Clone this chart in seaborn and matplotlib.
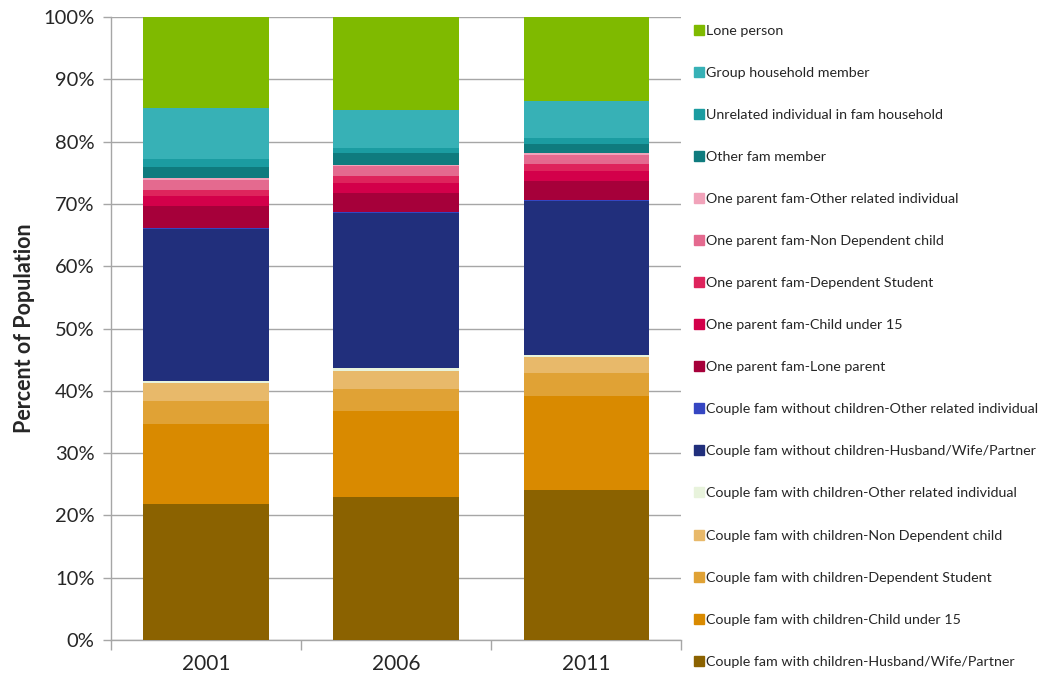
import matplotlib
matplotlib.use("Agg")
import matplotlib.pyplot as plt
from matplotlib.lines import Line2D
import seaborn as sns

years = ["2001", "2006", "2011"]

# Household/family categories, bottom of the stack first
categories = [
    "Couple fam with children-Husband/Wife/Partner",
    "Couple fam with children-Child under 15",
    "Couple fam with children-Dependent Student",
    "Couple fam with children-Non Dependent child",
    "Couple fam with children-Other related individual",
    "Couple fam without children-Husband/Wife/Partner",
    "Couple fam without children-Other related individual",
    "One parent fam-Lone parent",
    "One parent fam-Child under 15",
    "One parent fam-Dependent Student",
    "One parent fam-Non Dependent child",
    "One parent fam-Other related individual",
    "Other fam member",
    "Unrelated individual in fam household",
    "Group household member",
    "Lone person",
]

# Share of population (%) per category, for 2001 / 2006 / 2011
cw_partner      = [21.8, 23.0, 24.1]
cw_child15      = [12.8, 13.8, 15.1]
cw_dep_student  = [3.7, 3.5, 3.7]
cw_nondep_child = [3.0, 2.9, 2.6]
cw_other_rel    = [0.2, 0.4, 0.2]
cn_partner      = [24.5, 24.9, 24.7]
cn_other_rel    = [0.2, 0.2, 0.2]
op_lone_parent  = [3.4, 3.1, 3.1]
op_child15      = [1.6, 1.6, 1.6]
op_dep_student  = [1.0, 1.1, 1.1]
op_nondep_child = [1.7, 1.6, 1.5]
op_other_rel    = [0.3, 0.2, 0.2]
other_fam       = [1.8, 1.8, 1.5]
unrelated       = [1.2, 0.9, 1.0]
group_household = [8.2, 6.1, 6.0]
lone_person     = [14.8, 14.9, 13.4]

series = [
    cw_partner, cw_child15, cw_dep_student, cw_nondep_child, cw_other_rel,
    cn_partner, cn_other_rel,
    op_lone_parent, op_child15, op_dep_student, op_nondep_child, op_other_rel,
    other_fam, unrelated, group_household, lone_person,
]

colors = [
    "#8B6200", "#D98A00", "#E0A235", "#E8B96A", "#E8F3DC",
    "#212F7C", "#3546C2",
    "#A6003A", "#D3004A", "#DE245C", "#E46A8F", "#F1A3BA",
    "#0F7B7E", "#1B9CA1", "#37B1B6", "#7FBA00",
]

sns.set_style("white")
plt.rcParams["font.family"] = ["Lato", "DejaVu Sans"]

fig = plt.figure(figsize=(10.58, 6.84), dpi=100)
ax = fig.add_axes([0.105, 0.0643, 0.539, 0.9108])

bottom = [0.0, 0.0, 0.0]
for vals, col in zip(series, colors):
    sns.barplot(x=years, y=vals, bottom=bottom, color=col, width=0.66,
                ax=ax, saturation=1, linewidth=0, zorder=3)
    bottom = [b + v for b, v in zip(bottom, vals)]

ax.set_ylim(0, 100)
ax.set_xlim(-0.5, 2.5)
ax.set_yticks(range(0, 101, 10))
ax.set_yticklabels([f"{t}%" for t in range(0, 101, 10)], fontsize=14.5, color="#262626")
ax.yaxis.grid(True, color="#A6A6A6", linewidth=1.0, zorder=0)
ax.set_axisbelow(True)

ax.set_xticks([0, 1, 2])
ax.set_xticklabels(years, fontsize=15, color="#262626")
ax.tick_params(axis="x", length=0, pad=10)
ax.tick_params(axis="y", length=6, color="#A6A6A6", width=1, direction="out", left=True, pad=6)
# category separator ticks on the x axis
ax.set_xticks([-0.5, 0.5, 1.5, 2.5], minor=True)
ax.tick_params(axis="x", which="minor", length=7, color="#A6A6A6", width=1, direction="out", bottom=True)

for side in ["top", "right"]:
    ax.spines[side].set_visible(False)
for side in ["left", "bottom"]:
    ax.spines[side].set_color("#A6A6A6")
    ax.spines[side].set_linewidth(1.0)

ax.set_xlabel("")
ax.set_ylabel("Percent of Population", fontsize=15.5, fontweight="bold", labelpad=6)

handles = [Line2D([0], [0], marker="s", linestyle="", markersize=7,
                  markerfacecolor=c, markeredgecolor=c) for c in colors]
leg = fig.legend(handles[::-1], categories[::-1], loc="upper left",
                 bbox_to_anchor=(0.649, 0.972), frameon=False, fontsize=10.3,
                 labelspacing=2.1, handletextpad=0.05, handlelength=0.9,
                 borderaxespad=0)
for t in leg.get_texts():
    t.set_color("#262626")

fig.savefig("out.png", dpi=100)
